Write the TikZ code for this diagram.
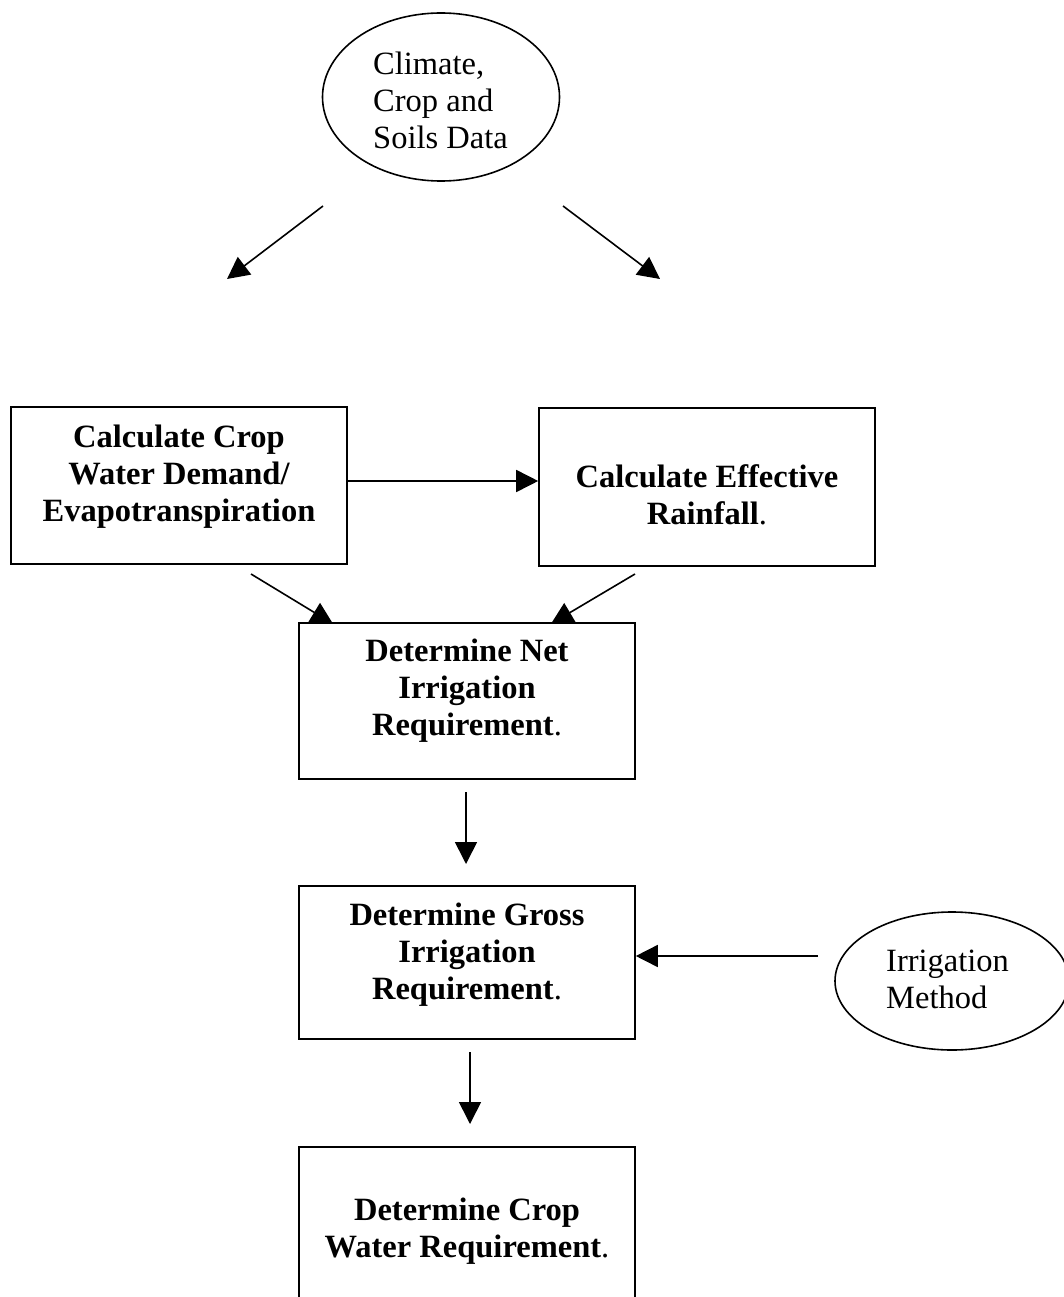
\documentclass[tikz,border=0pt]{standalone}
\usepackage{fontspec}
\setmainfont{Liberation Serif}
\usetikzlibrary{arrows.meta,shapes.geometric}
\tikzset{
  boxshape/.style={draw,line width=1.6pt,rectangle,minimum width=336pt,minimum height=157pt,inner sep=0pt},
  ovalshape/.style={draw,line width=1.6pt,ellipse,inner sep=0pt},
  boxtext/.style={font=\fontsize{32.5pt}{37pt}\selectfont\bfseries,align=center,inner sep=0pt},
  ovaltext/.style={font=\fontsize{32.5pt}{37pt}\selectfont,align=left,inner sep=0pt,anchor=west},
  arr/.style={line width=1.6pt,-{Triangle[length=22pt,width=22pt]}}
}
\begin{document}
\begin{tikzpicture}[x=1pt,y=-1pt]
\useasboundingbox (0,0) rectangle (1064,1297);
\clip (0,0) rectangle (1064,1297);
% top ellipse
\node[ovalshape,minimum width=237pt,minimum height=168pt] (climate) at (441,97) {};
\node[ovaltext] (climatetxt) at (373,100) {Climate,\\Crop and\\Soils Data};
\coordinate (la) at (323,206);
\coordinate (lb) at (227,279);
\coordinate (ra) at (563,206);
\coordinate (rb) at (660,279);
\draw[arr] (la) -- (lb);
\draw[arr] (ra) -- (rb);
% boxes
\node[boxshape] (cwd) at (179,485.5) {};
\node[boxtext] (cwdtxt) at (179,477) {Calculate Crop\\Water Demand/\\Evapotranspiration};
\node[boxshape,minimum height=158pt] (er) at (707,487) {};
\node[boxtext] (ertxt) at (707,495) {Calculate Effective\\Rainfall\textnormal{.}};
\draw[arr] (cwd.east |- 0,481) -- (er.west |- 0,481);
\node[boxshape,minimum height=156pt] (nir) at (467,701) {};
\node[boxtext] (nirtxt) at (467,691) {Determine Net\\Irrigation\\Requirement\textnormal{.}};
\coordinate (a1) at (251,574);
\coordinate (a2) at (635,574);
\draw[arr] (a1) -- (333,623.8);
\draw[arr] (a2) -- (551,623.8);
\coordinate (d1) at (466,792);
\draw[arr] (d1) -- (466,864);
\node[boxshape,minimum height=153pt] (gir) at (467,962.5) {};
\node[boxtext] (girtxt) at (467,955) {Determine Gross\\Irrigation\\Requirement\textnormal{.}};
% irrigation method ellipse
\node[ovalshape,minimum width=234pt,minimum height=138pt] (im) at (952,981) {};
\node[ovaltext] (imtxt) at (886,979) {Irrigation\\Method};
\coordinate (m1) at (818,956);
\draw[arr] (m1) -- (gir.east |- 0,956);
\coordinate (d2) at (470,1052);
\draw[arr] (d2) -- (470,1124);
\node[boxshape,minimum height=220pt] (cwr) at (467,1257) {};
\node[boxtext] (cwrtxt) at (467,1231) {Determine Crop\\Water Requirement\textnormal{.}};
\end{tikzpicture}
\end{document}
